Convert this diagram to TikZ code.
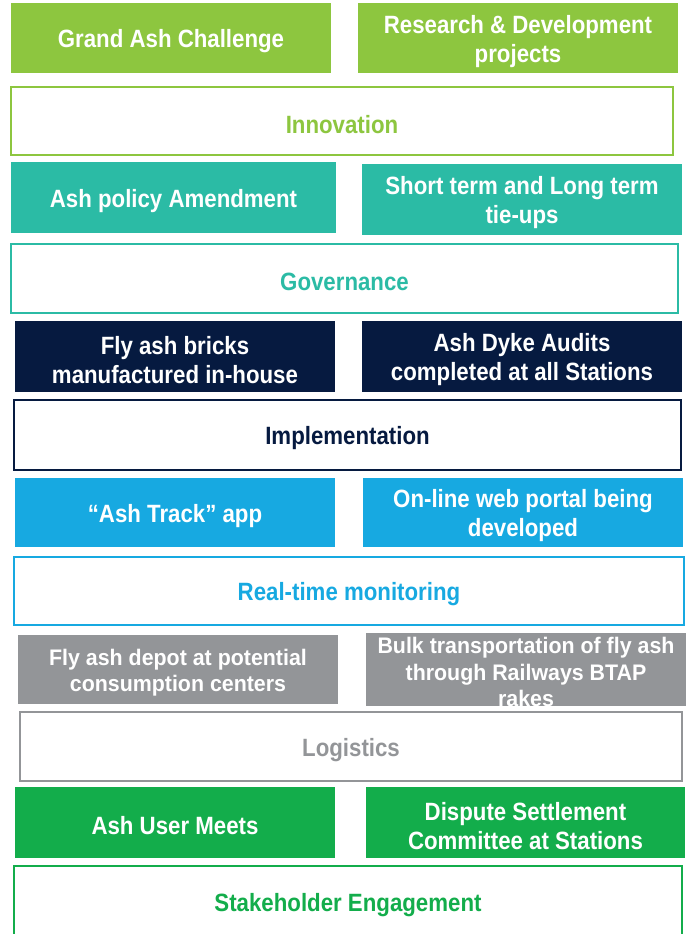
\documentclass[tikz,border=0pt]{standalone}
\usepackage{fontspec}
\newfontfamily\tilefont{Liberation Sans}[FakeStretch=0.89]
\newfontfamily\greyfont{Liberation Sans}[FakeStretch=0.95]
\definecolor{innogreen}{HTML}{8DC63F}
\definecolor{govteal}{HTML}{2BBBA5}
\definecolor{implnavy}{HTML}{061A40}
\definecolor{rtblue}{HTML}{17A9E1}
\definecolor{logigrey}{HTML}{939598}
\definecolor{stakegreen}{HTML}{13AD4B}
\begin{document}
\begin{tikzpicture}[x=1pt,y=-1pt,
  tile/.style={fill=#1,draw=none,inner sep=0pt},
  band/.style={draw=#1,line width=2pt,fill=white,inner sep=0pt},
  caption/.style={text=#1,inner sep=0pt,align=center,yshift=-3.5pt,
    font=\tilefont\bfseries\fontsize{25}{29}\selectfont},
  greycaption/.style={caption=white,font=\greyfont\bfseries\fontsize{22.5}{26.5}\selectfont}]
\useasboundingbox (0,0) rectangle (688,934);
\clip (0,0) rectangle (688,934);
% innovation
\node[tile=innogreen,minimum width=320pt,minimum height=70pt] (grand) at (171,38) {};
\node[caption=white] (grandtext) at (grand) {Grand Ash Challenge};
\node[tile=innogreen,minimum width=320pt,minimum height=70pt] (rnd) at (518,38) {};
\node[caption=white] (rndtext) at (rnd) {Research \& Development\\projects};
\node[band=innogreen,minimum width=662pt,minimum height=68pt] (innov) at (342,121) {};
\node[caption=innogreen] (innovtext) at (innov) {Innovation};
% governance
\node[tile=govteal,minimum width=325pt,minimum height=71pt] (policy) at (173.5,197.5) {};
\node[caption=white] (policytext) at (policy) {Ash policy Amendment};
\node[tile=govteal,minimum width=320pt,minimum height=71pt] (tieups) at (522,199.5) {};
\node[caption=white] (tieupstext) at (tieups) {Short term and Long term\\tie-ups};
\node[band=govteal,minimum width=667pt,minimum height=69pt] (gov) at (344.5,278.5) {};
\node[caption=govteal] (govtext) at (gov) {Governance};
% implementation
\node[tile=implnavy,minimum width=320pt,minimum height=71pt] (bricks) at (175,356.5) {};
\node[caption=white] (brickstext) at (bricks) {Fly ash bricks\\manufactured in-house};
\node[tile=implnavy,minimum width=320pt,minimum height=71pt] (audits) at (522,356.5) {};
\node[caption=white] (auditstext) at (audits) {Ash Dyke Audits\\completed at all Stations};
\node[band=implnavy,minimum width=667pt,minimum height=70pt] (impl) at (347.5,435) {};
\node[caption=implnavy] (impltext) at (impl) {Implementation};
% real-time monitoring
\node[tile=rtblue,minimum width=320pt,minimum height=69pt] (app) at (175,512.5) {};
\node[caption=white] (apptext) at (app) {“Ash Track” app};
\node[tile=rtblue,minimum width=320pt,minimum height=69pt] (portal) at (523,512.5) {};
\node[caption=white] (portaltext) at (portal) {On-line web portal being\\developed};
\node[band=rtblue,minimum width=670pt,minimum height=68pt] (rtmon) at (349,591) {};
\node[caption=rtblue] (rtmontext) at (rtmon) {Real-time monitoring};
% logistics
\node[tile=logigrey,minimum width=320pt,minimum height=69pt] (depot) at (178,669) {};
\node[greycaption] (depottext) at (depot) {Fly ash depot at potential\\consumption centers};
\node[tile=logigrey,minimum width=320pt,minimum height=73pt] (bulk) at (526,669.5) {};
\node[greycaption,yshift=1pt] (bulktext) at (bulk) {Bulk transportation of fly ash\\through Railways BTAP\\rakes};
\node[band=logigrey,minimum width=662pt,minimum height=69pt] (logi) at (351,746.5) {};
\node[caption=logigrey] (logitext) at (logi) {Logistics};
% stakeholder engagement
\node[tile=stakegreen,minimum width=320pt,minimum height=71pt] (meets) at (175,822.5) {};
\node[caption=white] (meetstext) at (meets) {Ash User Meets};
\node[tile=stakegreen,minimum width=319pt,minimum height=71pt] (dispute) at (525.5,822.5) {};
\node[caption=white] (disputetext) at (dispute) {Dispute Settlement\\Committee at Stations};
\node[band=stakegreen,minimum width=668pt,minimum height=74pt] (stake) at (348,903) {};
\node[caption=stakegreen,yshift=1.5pt] (staketext) at (stake) {Stakeholder Engagement};
\end{tikzpicture}
\end{document}
